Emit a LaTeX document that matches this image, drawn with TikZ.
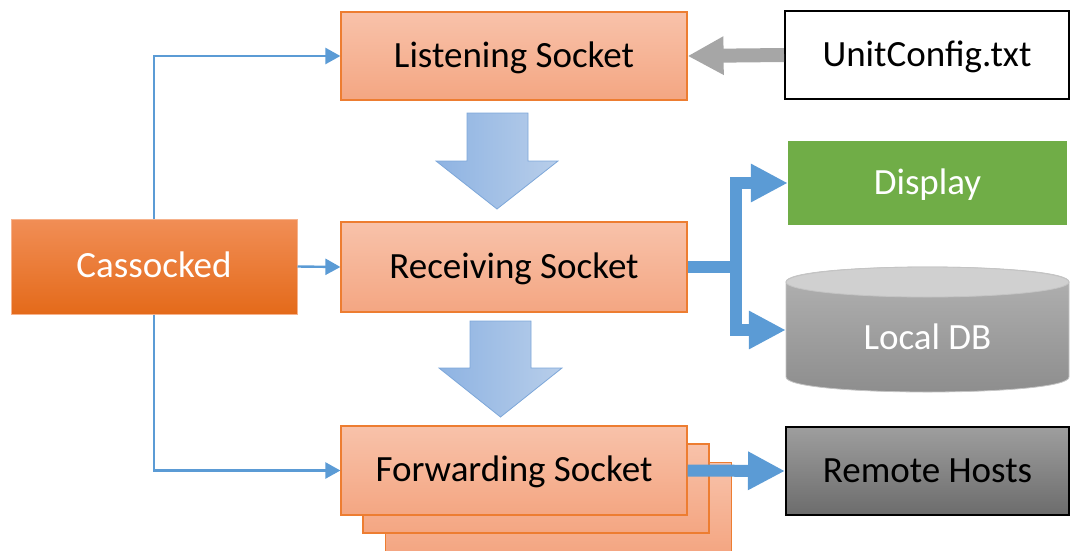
\documentclass[tikz,border=0pt]{standalone}
\usepackage{fontspec}
\setmainfont{Carlito}
\usetikzlibrary{arrows.meta}
\definecolor{sockTop}{RGB}{248,194,170}
\definecolor{sockBot}{RGB}{244,166,130}
\definecolor{sockLine}{RGB}{237,125,49}
\definecolor{cassTop}{RGB}{241,142,86}
\definecolor{cassBot}{RGB}{228,106,26}
\definecolor{cassLine}{RGB}{246,178,140}
\definecolor{linkBlue}{RGB}{91,155,213}
\definecolor{blockL}{RGB}{142,179,226}
\definecolor{blockR}{RGB}{184,206,234}
\definecolor{blockLine}{RGB}{125,167,217}
\definecolor{cfgGray}{RGB}{166,166,166}
\definecolor{dispGreen}{RGB}{112,173,71}
\definecolor{remTop}{RGB}{158,158,158}
\definecolor{remBot}{RGB}{108,108,108}
\definecolor{dbTop}{RGB}{208,208,208}
\definecolor{dbBodyTop}{RGB}{180,180,180}
\definecolor{dbBodyBot}{RGB}{140,140,140}
\definecolor{dbLine}{RGB}{196,196,196}

\begin{document}
\begin{tikzpicture}[x=1pt,y=-1pt,
  box/.style={rectangle, inner sep=0pt, font=\fontsize{37}{42}\selectfont,
              text height=26pt, text depth=4pt},
  socket/.style={box, top color=sockTop, bottom color=sockBot, draw=sockLine,
                 line width=1.2pt, minimum width=346pt, minimum height=89pt},
  link/.style={draw=linkBlue, line width=2.4pt, -{Triangle[length=15pt,width=16pt]}},
  fat/.style={draw=linkBlue, line width=12pt, line join=miter},
  fathead/.style={-{Triangle[length=37pt,width=36pt]}},
  block/.style={left color=blockL, right color=blockR, draw=blockLine, line width=0.8pt}
]
\useasboundingbox (0,0) rectangle (1074,550);

% stacked forwarding sockets (back copies first)
\node[socket] (fwd3) at (558.5,507) {};
\node[socket] (fwd2) at (536,488.5) {};
\node[socket] (fwd)  at (514,470.5) {Forwarding Socket};

% main socket boxes
\node[socket, minimum height=88pt] (listen) at (514,56) {Listening Socket};
\node[socket, minimum height=90pt] (recv) at (514,267) {Receiving Socket};

% controller
\node[box, top color=cassTop, bottom color=cassBot, draw=cassLine, line width=1pt,
      minimum width=286pt, minimum height=95pt, text=white] (cass) at (154,266.5) {Cassocked};

% configuration file
\node[box, fill=white, draw=black, line width=2pt, minimum width=284pt,
      minimum height=88pt] (unit) at (927,55) {UnitConfig.txt};

% outputs
\node[box, fill=dispGreen, minimum width=279pt, minimum height=84pt, text=white]
      (disp) at (927.5,183) {Display};
\node[box, top color=remTop, bottom color=remBot, draw=black, line width=2pt,
      minimum width=283pt, minimum height=88pt] (remote) at (927.5,471) {Remote Hosts};

% local database cylinder
\node[box, minimum width=283pt, minimum height=126pt] (db) at (927.5,330) {};
\shade[top color=dbBodyTop, bottom color=dbBodyBot, draw=dbLine, line width=0.8pt]
  (786,282) -- (786,377) .. controls (786,397) and (1069,397) .. (1069,377)
  -- (1069,282) .. controls (1069,262) and (786,262) .. (786,282) -- cycle;
\fill[dbTop, draw=dbLine, line width=0.8pt] (927.5,282) ellipse [x radius=141.5pt, y radius=15pt];
\node[box, text=white] (dblabel) at (927.5,338) {Local DB};

% block arrows between the socket stages
\shade[block] (467,113) -- (528,113) -- (528,161) -- (558,161) -- (497,209)
  -- (436,161) -- (467,161) -- cycle;
\shade[block] (470,321) -- (531,321) -- (531,368) -- (562,368) -- (500.5,417)
  -- (439,368) -- (470,368) -- cycle;

% thin control links from the controller
\draw[link] (cass.north) |- (listen.west);
\draw[link] (cass.east) -- (recv.west);
\draw[link] (cass.south) |- (fwd.west);

% configuration read
\draw[draw=cfgGray, line width=14pt, -{Triangle[length=36pt,width=36pt]}] (unit.west) -- (listen.east);

% received data fan-out
\coordinate (split) at (736,267);
\draw[fat] (recv.east) -- ([xshift=6pt]split);
\draw[fat, fathead] (split) |- (disp.west);
\draw[fat, fathead] (split) |- (db.west);

% forwarding to remote hosts
\draw[fat, fathead] (fwd.east) -- (remote.west);
\end{tikzpicture}
\end{document}
